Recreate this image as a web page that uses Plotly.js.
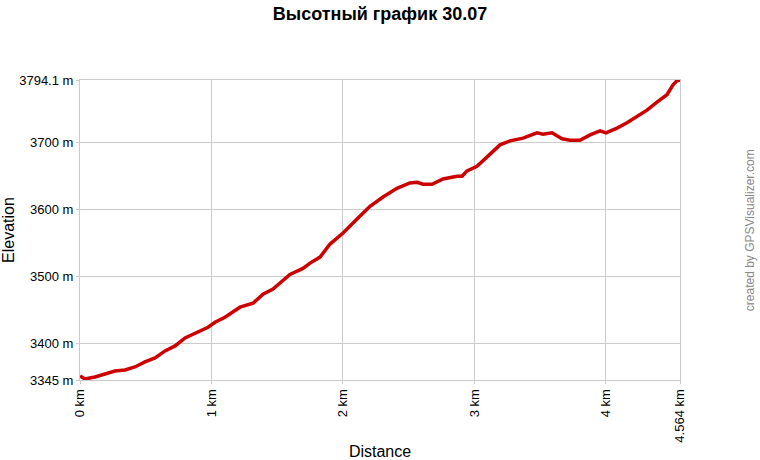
<!DOCTYPE html>
<html>
<head>
<meta charset="utf-8">
<script src="https://cdn.plot.ly/plotly-3.0.1.min.js"></script>
<style>html,body{margin:0;padding:0;background:#fff;}#chart{width:760px;height:460px;}</style>
</head>
<body>
<div id="chart"></div>
<script>
const distanceKm = [0, 0.038, 0.114, 0.190, 0.266, 0.342, 0.418, 0.494, 0.571, 0.647, 0.723, 0.799, 0.875, 0.974, 1.027, 1.103, 1.217, 1.316, 1.392, 1.468, 1.597, 1.696, 1.750, 1.826, 1.902, 2.001, 2.107, 2.206, 2.305, 2.411, 2.510, 2.564, 2.609, 2.678, 2.761, 2.868, 2.906, 2.944, 3.020, 3.096, 3.195, 3.271, 3.370, 3.476, 3.522, 3.590, 3.667, 3.727, 3.803, 3.880, 3.956, 4.001, 4.085, 4.161, 4.237, 4.313, 4.389, 4.465, 4.511, 4.541, 4.564];
const elevationM = [3351, 3346.5, 3349.5, 3354, 3358.5, 3360, 3364.5, 3372, 3378, 3388.5, 3396, 3408, 3415, 3424, 3431.5, 3439, 3454, 3460, 3473.5, 3481, 3503, 3512, 3520, 3529, 3548.5, 3565, 3586, 3605, 3619, 3632, 3640, 3641, 3638, 3638, 3646, 3650, 3650, 3658, 3665, 3679, 3697, 3703, 3707, 3715, 3713, 3715, 3706, 3704, 3704, 3712, 3718, 3715, 3722, 3730, 3740, 3749, 3761, 3772, 3787, 3793, 3794.1];
const xTickVals = [0, 1, 2, 3, 4, 4.564];
const xTickText = ["0 km", "1 km", "2 km", "3 km", "4 km", "4.564 km"];
const yTickVals = [3345, 3400, 3500, 3600, 3700, 3794.1];
const yTickText = ["3345 m", "3400 m", "3500 m", "3600 m", "3700 m", "3794.1 m"];

const font = "Liberation Sans, Arial, sans-serif";
Plotly.newPlot("chart", [{
  x: distanceKm, y: elevationM, type: "scatter", mode: "lines",
  line: {color: "#cc0000", width: 3.5}, hoverinfo: "x+y"
}], {
  width: 760, height: 460,
  margin: {l: 80, r: 80, t: 80, b: 80},
  paper_bgcolor: "#fff", plot_bgcolor: "#fff",
  showlegend: false,
  font: {family: font, color: "#000", size: 13},
  title: {text: "<b>Высотный график 30.07</b>", x: 0.5, xanchor: "center", y: 0.97, yanchor: "middle", font: {family: font, size: 18, color: "#000"}},
  xaxis: {
    range: [0, 4.564], tickmode: "array", tickvals: xTickVals, ticktext: xTickText,
    tickangle: -90, showgrid: true, gridcolor: "#cccccc", gridwidth: 1,
    showline: true, linecolor: "#cccccc", mirror: true, zeroline: false,
    ticks: "outside", ticklen: 3, tickcolor: "#cccccc",
    tickfont: {family: font, size: 13, color: "#000"},
    title: {text: "Distance", font: {family: font, size: 16, color: "#000"}, standoff: 8}
  },
  yaxis: {
    range: [3345, 3794.1], tickmode: "array", tickvals: yTickVals, ticktext: yTickText,
    showgrid: true, gridcolor: "#cccccc", gridwidth: 1,
    showline: true, linecolor: "#cccccc", mirror: true, zeroline: false,
    ticks: "outside", ticklen: 3, tickcolor: "#cccccc",
    tickfont: {family: font, size: 13, color: "#000"},
    title: {text: "Elevation", font: {family: font, size: 16, color: "#000"}, standoff: 8}
  },
  annotations: [{
    text: "created by GPSVisualizer.com", xref: "paper", yref: "paper",
    x: 1.117, y: 0.5, xanchor: "center", yanchor: "middle", textangle: -90,
    showarrow: false, font: {family: font, size: 12, color: "#888888"}
  }]
}, {displayModeBar: false, staticPlot: true});
</script>
</body>
</html>
